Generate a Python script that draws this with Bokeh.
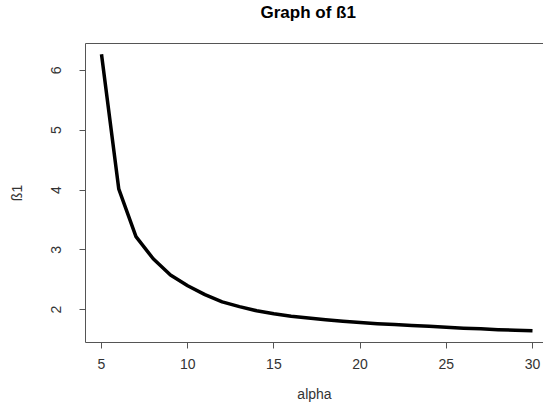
from bokeh.plotting import figure
from bokeh.models import Range1d, FixedTicker, LinearAxis, Title
from bokeh.embed import file_html
from bokeh.resources import INLINE

alpha = list(range(5, 31))
beta1 = [6.27, 4.02, 3.22, 2.85, 2.58, 2.40, 2.25, 2.13, 2.05, 1.98, 1.93,
         1.89, 1.86, 1.83, 1.805, 1.785, 1.765, 1.75, 1.735, 1.72, 1.705,
         1.69, 1.68, 1.665, 1.655, 1.645]
x_ticks = [5, 10, 15, 20, 25, 30]
y_ticks = [2, 3, 4, 5, 6]
title_text = "Graph of ß1"

FONT = "Liberation Sans"
BOX = "#555555"
TXT = "#333333"

p = figure(width=543, height=404, output_backend="svg", toolbar_location=None,
           x_range=Range1d(4.072, 30.638), y_range=Range1d(1.45, 6.45),
           min_border_left=85, min_border_right=0, min_border_top=43,
           min_border_bottom=61, x_axis_label="alpha", y_axis_label="ß1")
p.title = Title(text=title_text, align="left", offset=175, text_font=FONT,
                text_font_size="17px", text_font_style="bold", text_color="black",
                vertical_align="top", standoff=4)
p.outline_line_color = None
p.grid.visible = False
p.background_fill_color = "white"
p.border_fill_color = "white"

p.line(alpha, beta1, line_width=3.5, line_color="black", line_join="round")

p.xaxis.ticker = FixedTicker(ticks=x_ticks)
p.yaxis.ticker = FixedTicker(ticks=y_ticks)
for ax in (p.xaxis[0], p.yaxis[0]):
    ax.axis_line_color = BOX
    ax.major_tick_line_color = BOX
    ax.major_tick_out = 6
    ax.major_tick_in = 0
    ax.minor_tick_line_color = None
    ax.major_label_text_font = FONT
    ax.major_label_text_font_size = "14px"
    ax.major_label_text_color = TXT
    ax.axis_label_text_font = FONT
    ax.axis_label_text_font_size = "14px"
    ax.axis_label_text_font_style = "normal"
    ax.axis_label_text_color = TXT
p.xaxis.major_label_standoff = 10
p.xaxis.axis_label_standoff = 14
p.yaxis.major_label_orientation = "vertical"
p.yaxis.major_label_standoff = 18
p.yaxis.axis_label_standoff = 24

# top border of the box; a blank axis label reserves space that lifts the title
top = LinearAxis(ticker=FixedTicker(ticks=[]), major_label_text_font_size="0px",
                 major_tick_out=0, major_tick_in=0, minor_tick_out=0, minor_tick_in=0,
                 axis_line_color=BOX, axis_label=" ", axis_label_standoff=0,
                 axis_label_text_font_size="13px")
p.add_layout(top, "above")

open("out.html", "w").write(file_html(p, INLINE))
